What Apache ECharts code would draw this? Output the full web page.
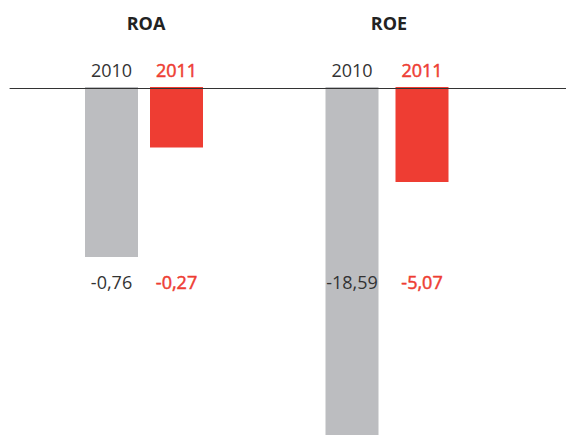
<!DOCTYPE html>
<html>
<head>
<meta charset="utf-8">
<script src="https://cdn.jsdelivr.net/npm/echarts@6/dist/echarts.min.js"></script>
<style>
html, body { margin: 0; padding: 0; background: #fff; }
#main { width: 566px; height: 435px; }
</style>
</head>
<body>
<div id="main"></div>
<script>
const groups = ['ROA', 'ROE']
const years = ['2010', '2011']
const roa = [-0.76, -0.27]
const roe = [-18.59, -5.07]

const GRAY = '#bcbdc0'
const RED = '#ee3d33'
const TEXT = '#333333'
const FONT = '"Open Sans", "Noto Sans", sans-serif'

const fmt = (v) => v.toFixed(2).replace('.', ',')

const chart = echarts.init(document.getElementById('main'), null, { renderer: 'svg' })

// each group has its own scale
const panels = [
  { name: groups[0], values: roa, left: 79, width: 130, height: 170 },
  { name: groups[1], values: roe, left: 317, width: 140, height: 348 }
]

const rich = {
  a: { color: TEXT, fontSize: 18, fontFamily: FONT },
  // 2011 is set a touch heavier (semibold look)
  b: { color: RED, fontSize: 18, fontFamily: FONT, textBorderColor: RED, textBorderWidth: 0.5 }
}
const richFmt = (v, i) => (i === 0 ? '{a|' + v + '}' : '{b|' + v + '}')
const labelStyle = { margin: 8, interval: 0, hideOverlap: false, formatter: richFmt, rich }

const grid = []
const xAxis = []
const yAxis = []
const series = []
const graphic = []

panels.forEach((p) => {
  // bar grid
  grid.push({ left: p.left, width: p.width, top: 87, height: p.height })
  xAxis.push({
    type: 'category',
    gridIndex: grid.length - 1,
    position: 'top',
    data: years,
    axisLine: { show: false },
    axisTick: { show: false },
    axisLabel: labelStyle
  })
  yAxis.push({
    type: 'value',
    gridIndex: grid.length - 1,
    min: Math.min(...p.values),
    max: 0,
    show: false
  })
  series.push({
    type: 'bar',
    xAxisIndex: xAxis.length - 1,
    yAxisIndex: yAxis.length - 1,
    barWidth: 53,
    data: p.values,
    itemStyle: { color: (d) => (d.dataIndex === 0 ? GRAY : RED) },
    silent: true
  })

  // value labels on a fixed row
  grid.push({ left: p.left, width: p.width, top: 257, height: 8 })
  xAxis.push({
    type: 'category',
    gridIndex: grid.length - 1,
    position: 'bottom',
    data: p.values.map(fmt),
    z: 10,
    axisLine: { show: false },
    axisTick: { show: false },
    axisLabel: labelStyle
  })
  yAxis.push({ type: 'value', gridIndex: grid.length - 1, show: false })

  graphic.push({
    type: 'text',
    x: p.left + p.width / 2 + 2,
    y: 23,
    style: {
      text: p.name,
      align: 'center',
      verticalAlign: 'middle',
      font: 'bold 18px ' + FONT,
      fill: '#222'
    }
  })
})

// baseline across the page
grid.push({ left: 10, right: 0, top: 87, height: 1 })
xAxis.push({
  type: 'value',
  gridIndex: grid.length - 1,
  position: 'top',
  z: 5,
  axisLine: { show: true, lineStyle: { color: '#333', width: 1 } },
  axisTick: { show: false },
  axisLabel: { show: false },
  splitLine: { show: false }
})
yAxis.push({ type: 'value', gridIndex: grid.length - 1, show: false })

chart.setOption({
  animation: false,
  backgroundColor: '#fff',
  textStyle: { fontFamily: FONT },
  grid,
  xAxis,
  yAxis,
  series,
  graphic
})
</script>
</body>
</html>
